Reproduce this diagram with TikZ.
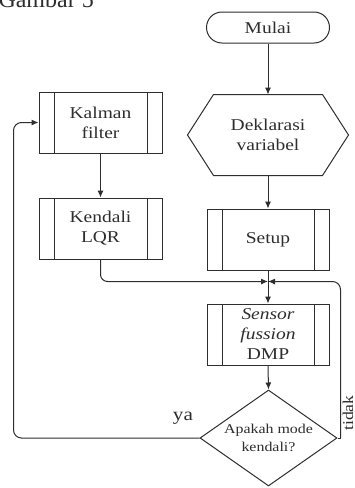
\documentclass[tikz,border=0pt]{standalone}
\usepackage{fontspec}
\setmainfont{Liberation Serif}
\usepackage{graphicx}
\usetikzlibrary{arrows.meta,shapes.geometric}
\newcommand{\wide}[1]{\scalebox{1.18}[1]{#1}}

\begin{document}
\begin{tikzpicture}[x=1pt,y=-1pt,line width=1pt,color=black!82,
  txt/.style={font=\fontsize{16.5}{20}\selectfont,align=center},
  base/.style={txt,draw,fill=white,inner sep=0pt},
  subproc/.style={base,rectangle,minimum width=122,minimum height=61,
    path picture={
      \draw ([xshift=15pt]path picture bounding box.north west) -- ([xshift=15pt]path picture bounding box.south west);
      \draw ([xshift=-15pt]path picture bounding box.north east) -- ([xshift=-15pt]path picture bounding box.south east);}},
  arr/.style={-{Latex[length=7pt,width=6pt]}}]

\fill[white] (0,0) rectangle (354,488);
\useasboundingbox (0,0) rectangle (354,488);
\clip (0,0) rectangle (354,488);

% caption, cut at the top
\node[anchor=base west,inner sep=0pt,font=\fontsize{24}{24}\selectfont] (cap) at (-2,7.5) {Gambar 5};

% main column
\node[base,rounded corners=15.5pt,minimum width=123,minimum height=31] (mulai) at (268,27.5) {\wide{Mulai}};

\node[txt,inner sep=0pt,minimum width=160,minimum height=80] (hex) at (268,135) {\wide{Deklarasi}\\\wide{variabel}};
\draw (hex.west) -- ([xshift=26pt]hex.north west) -- ([xshift=-26pt]hex.north east)
  -- (hex.east) -- ([xshift=-26pt]hex.south east) -- ([xshift=26pt]hex.south west) -- cycle;

\node[subproc] (setup) at (268,239.5) {\wide{Setup}};
\node[subproc] (sensor) at (268,334.5) {\wide{\itshape Sensor}\\\wide{\itshape fussion}\\\wide{DMP}};

\node[draw,diamond,fill=white,inner sep=0pt,minimum width=137,minimum height=96,
  label={[font=\fontsize{13.5}{17.5}\selectfont,align=center]center:{\wide{Apakah mode}\\\wide{kendali?}}}] (dec) at (268.5,438) {};

% left column
\node[subproc,minimum width=123] (kalman) at (100.5,122.5) {\wide{Kalman}\\\wide{filter}};
\node[subproc,minimum width=123] (lqr) at (100.5,228.5) {\wide{Kendali}\\\wide{LQR}};

% junction above the sensor block
\coordinate (j) at (268,281.5);

% connectors
\draw[arr] (mulai.south) -- (hex.north);
\draw[arr] (hex.south) -- (setup.north);
\draw[arr] (setup.south) -- (sensor.north);
\draw[arr] (sensor.south) -- (dec.north);
\draw[arr] (kalman.south) -- (lqr.north);
\draw[arr,rounded corners=7pt] (lqr.south) |- (j);
\draw (dec.east) -- ++(3,0) coordinate (rc);
\draw[arr,rounded corners=8pt] (rc) |- (j);
\draw[arr,rounded corners=8pt] (dec.west) -- ++(-186,0) |- (kalman.west);

% branch labels
\node[font=\fontsize{18}{18}\selectfont,inner sep=0pt] (ya) at (183,418) {\wide{ya}};
\node[rotate=90,anchor=base,inner sep=0pt,font=\fontsize{15}{15}\selectfont] (tidak) at (353,413) {\wide{tidak}};
\end{tikzpicture}
\end{document}
